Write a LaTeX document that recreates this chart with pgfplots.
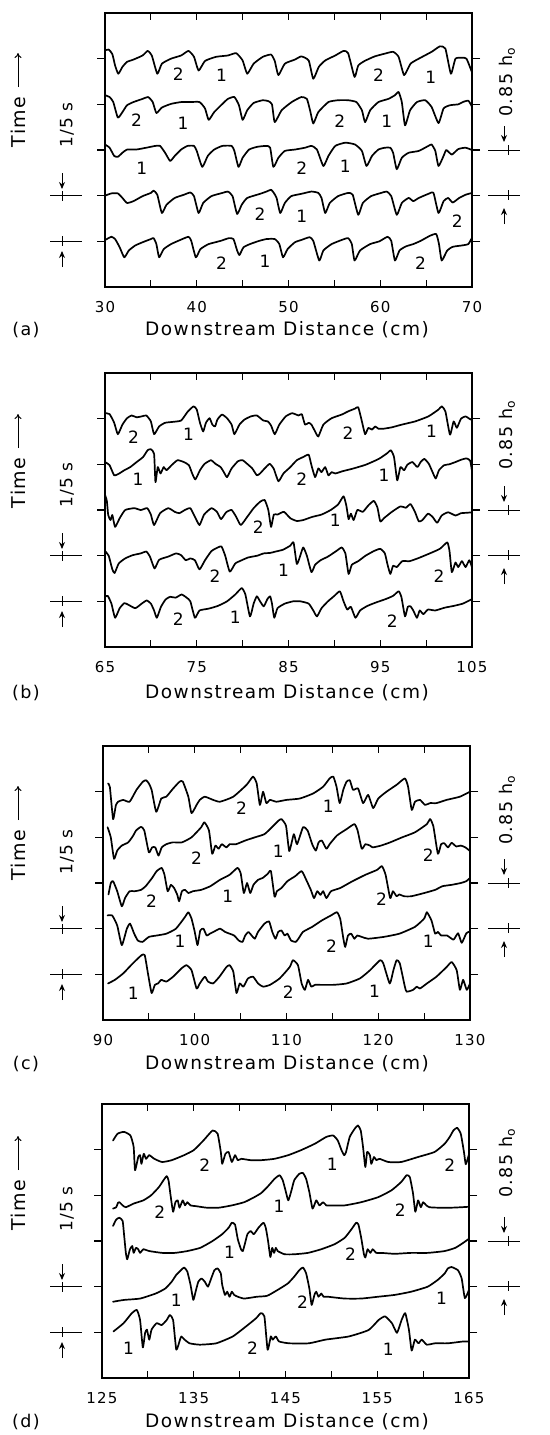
\documentclass[border=0pt]{standalone}
\usepackage{pgfplots}
\pgfplotsset{compat=1.18}
\usetikzlibrary{arrows.meta}
\usepackage{fontspec}
\setmainfont{DejaVu Sans}
\newfontfamily\plotfont[LetterSpace=8]{DejaVu Sans}
\newcommand\tickfont{\plotfont\fontsize{15}{18}\selectfont}
\newcommand\xlabfont{\plotfont\fontsize{18.5}{22}\selectfont}
\newcommand\numfont{\plotfont\fontsize{17}{20}\selectfont}
\newcommand\annfont{\plotfont\fontsize{17.5}{21}\selectfont}
\newcommand\timefont{\plotfont\fontsize{19}{22}\selectfont}
\newcommand\fiffont{\plotfont\fontsize{17}{20}\selectfont}

\tikzset{dimarr/.style={line width=1pt,-{Stealth[length=7pt,width=6pt]}},
         dimln/.style={line width=0.9pt}}

\pgfplotsset{
  panel/.style={scale only axis, width=367pt, height=274pt, anchor=north west,
    ymin=-1, ymax=5, clip=true,
    axis line style={line width=1.5pt},
    tick style={black, line width=1.2pt},
    tick align=inside, major tick length=7pt, minor tick length=7pt,
    ytick=\empty,
    xticklabel={\pgfmathprintnumber[assume math mode=true]{\tick}},
    xticklabel style={font=\tickfont, anchor=base, yshift=-25pt}},
  ytk/.style={scale only axis, width=367pt, height=274pt, anchor=north west,
    ymin=-1, ymax=5, xmin=0, xmax=1, xtick=\empty, ytick={0,1,2,3,4}, yticklabels={,,,,},
    tick align=outside, major tick length=8pt,
    tick style={black, line width=1.2pt},
    axis line style={line width=1.5pt}},
  trace/.style={black, line width=1.7pt, line join=round, line cap=round, mark=none, solid, smooth, tension=0.3},
}

\newcommand{\panelnotes}[6]{%
 \begin{scope}[yshift=-#1pt]
  \node[rotate=90, font=\timefont] at (18pt,-#2pt) {Time};
  \draw[line width=1pt,-{To[length=5pt,width=7pt]}] (18pt,{-(#2-35)*1pt}) -- (18pt,{-(#2-69)*1pt});
  \node[rotate=90, font=\fiffont] at (67pt,-#3pt) {1/5 s};
  \draw[dimln] (50pt,-182.7pt) -- (82pt,-182.7pt);
  \draw[dimln] (50pt,-228.3pt) -- (82pt,-228.3pt);
  \draw[dimln] (62pt,-178pt) -- (62pt,-188pt);
  \draw[dimln] (62pt,-223pt) -- (62pt,-233pt);
  \draw[dimarr] (62pt,-160pt) -- (62pt,-176pt);
  \draw[dimarr] (62pt,-254pt) -- (62pt,-238pt);
  \node[rotate=90, font=\annfont] at (507pt,-#4pt) {0.85 h\textsubscript{o}};
  \draw[dimln] (488pt,-137pt) -- (520pt,-137pt);
  \draw[dimln] (488pt,-182.7pt) -- (520pt,-182.7pt);
  \draw[dimln] (508pt,-132pt) -- (508pt,-142pt);
  \draw[dimln] (508pt,-177pt) -- (508pt,-187pt);
  \draw[dimarr] (504pt,-113pt) -- (504pt,-129pt);
  \draw[dimarr] (504pt,-211pt) -- (504pt,-195pt);
 \end{scope}
 \node[font=\xlabfont] at (287pt,-#6pt) {Downstream Distance (cm)};
 \node[font=\annfont] at (26pt,-#6pt) {(#5)};
}

\begin{document}
\begin{tikzpicture}
\useasboundingbox (0,0) rectangle (549pt,-1435pt);

% ================= (a) =================
\begin{axis}[ytk, at={(105pt,-13pt)}]\end{axis}
\begin{axis}[panel, at={(105pt,-13pt)}, xmin=30, xmax=70,
  xtick={30,40,...,70}, minor xtick={35,45,...,65}]
\addplot[trace] table[row sep=\\, y expr=\thisrowno{1}+4]{x y\\
30.0 0.18\\ 30.4 0.20\\ 30.8 0.10\\ 31.1 -0.15\\ 31.45 -0.33\\ 31.9 -0.18\\ 32.4 -0.07\\ 33.1 -0.02\\ 34.1 0.07\\ 34.65 0.17\\
35.1 0.07\\ 35.7 -0.33\\ 36.2 -0.11\\ 37.2 0.00\\ 38.3 0.07\\ 39.1 0.17\\ 39.7 0.04\\ 40.2 -0.26\\ 40.9 -0.05\\ 42.1 0.04\\
43.4 0.07\\ 44.3 0.12\\ 45.0 -0.04\\ 45.5 -0.33\\ 46.2 -0.11\\ 47.2 0.04\\ 48.1 0.09\\ 48.5 -0.05\\ 48.9 -0.36\\ 49.6 -0.11\\
50.7 -0.02\\ 51.4 0.05\\ 52.2 -0.04\\ 52.7 -0.44\\ 53.3 -0.18\\ 54.0 -0.04\\ 55.1 0.07\\ 56.0 0.17\\ 56.5 0.12\\ 57.2 -0.40\\
57.6 -0.15\\ 58.3 -0.05\\ 59.4 0.05\\ 60.5 0.11\\ 61.4 0.15\\ 62.0 0.04\\ 62.6 -0.36\\ 63.3 -0.11\\ 64.2 0.00\\ 65.6 0.15\\
66.5 0.27\\ 67.1 0.22\\ 67.7 -0.33\\ 68.2 0.00\\ 68.9 0.02\\ 69.4 0.00\\ 70.0 -0.30\\};
\addplot[trace] table[row sep=\\, y expr=\thisrowno{1}+3]{x y\\
30.0 0.20\\ 30.5 0.16\\ 30.9 0.05\\ 31.4 -0.29\\ 31.9 -0.17\\ 32.4 -0.02\\ 33.1 0.05\\ 34.1 0.12\\ 34.7 0.16\\ 35.2 0.05\\
35.6 -0.19\\ 36.2 -0.07\\ 37.2 0.01\\ 38.3 0.05\\ 39.3 0.05\\ 40.3 0.05\\ 40.9 -0.09\\ 41.3 -0.34\\ 41.9 -0.17\\ 42.8 0.01\\
43.4 0.12\\ 44.1 0.16\\ 44.6 -0.02\\ 45.0 -0.34\\ 45.5 -0.13\\ 46.2 0.03\\ 47.2 0.09\\ 47.8 0.07\\ 48.2 0.00\\ 48.5 -0.39\\
49.25 -0.13\\ 50.35 0.05\\ 51.4 0.16\\ 52.0 0.12\\ 52.35 -0.13\\ 52.7 -0.42\\ 53.25 -0.17\\ 54.35 0.05\\ 55.4 0.09\\ 56.5 0.09\\
57.4 0.05\\ 58.0 -0.13\\ 58.35 -0.39\\ 58.9 -0.13\\ 59.8 0.05\\ 60.9 0.12\\ 61.6 0.20\\ 62.0 0.27\\ 62.35 0.05\\ 62.7 -0.46\\
63.25 -0.13\\ 64.0 0.05\\ 64.9 0.09\\ 65.6 -0.06\\ 66.35 -0.41\\ 66.9 -0.09\\ 67.6 -0.02\\ 68.5 0.00\\ 69.0 0.05\\ 69.6 0.08\\ 70.0 -0.05\\};
\addplot[trace] table[row sep=\\, y expr=\thisrowno{1}+2]{x y\\
30.0 0.12\\ 30.5 0.05\\ 31.0 -0.13\\ 31.4 -0.15\\ 31.9 -0.06\\ 32.4 0.01\\ 33.4 0.01\\ 34.5 0.05\\ 35.5 0.09\\ 36.0 0.09\\
36.55 -0.06\\ 37.1 -0.24\\ 37.6 -0.13\\ 38.3 0.01\\ 39.0 0.09\\ 39.7 0.09\\ 40.0 -0.02\\ 40.6 -0.37\\ 41.2 -0.13\\ 41.9 0.01\\
42.8 0.09\\ 43.8 0.09\\ 44.1 -0.02\\ 44.55 -0.37\\ 45.0 -0.17\\ 45.7 0.01\\ 46.6 0.07\\ 47.6 0.09\\ 48.0 0.05\\ 48.35 -0.37\\
48.9 -0.17\\ 49.6 -0.02\\ 50.7 0.01\\ 51.8 0.05\\ 52.5 0.09\\ 53.1 0.01\\ 53.8 -0.35\\ 54.35 -0.13\\ 55.1 0.09\\ 56.2 0.16\\
57.25 0.12\\ 58.0 -0.02\\ 58.5 -0.35\\ 59.1 -0.13\\ 59.8 0.01\\ 60.5 0.05\\ 61.1 0.05\\ 61.4 -0.06\\ 61.8 -0.42\\ 62.35 -0.17\\
63.1 -0.06\\ 64.2 -0.02\\ 65.25 0.09\\ 65.6 0.12\\ 66.0 -0.02\\ 66.35 -0.35\\ 66.9 -0.13\\ 67.2 0.00\\ 67.8 -0.10\\ 68.5 0.02\\
69.3 0.05\\ 70.0 0.00\\};
\addplot[trace] table[row sep=\\, y expr=\thisrowno{1}+1]{x y\\
30.0 0.00\\ 30.7 0.05\\ 31.4 0.05\\ 31.9 -0.05\\ 32.4 -0.16\\ 33.1 -0.12\\ 34.1 -0.01\\ 35.0 0.06\\ 35.3 0.11\\ 35.7 0.02\\
36.2 -0.38\\ 36.7 -0.20\\ 37.6 -0.05\\ 38.6 0.02\\ 39.3 0.07\\ 39.7 -0.01\\ 40.2 -0.38\\ 40.7 -0.16\\ 41.6 -0.01\\ 42.8 0.06\\
43.4 0.09\\ 43.9 -0.01\\ 44.4 -0.40\\ 44.9 -0.20\\ 45.5 -0.05\\ 46.9 0.04\\ 47.6 0.09\\ 48.1 0.13\\ 48.4 0.06\\ 48.7 -0.05\\
49.1 -0.38\\ 49.6 -0.16\\ 50.3 -0.01\\ 51.4 0.04\\ 52.5 0.09\\ 53.25 0.06\\ 53.6 -0.05\\ 54.0 -0.38\\ 54.5 -0.16\\ 55.4 -0.01\\
56.5 0.06\\ 57.0 0.02\\ 57.6 -0.42\\ 58.1 -0.16\\ 59.0 -0.01\\ 60.1 0.06\\ 60.7 0.09\\ 61.2 -0.01\\ 61.8 -0.42\\ 62.35 -0.16\\
63.1 -0.05\\ 63.6 -0.12\\ 64.2 -0.05\\ 65.25 0.04\\ 65.8 0.06\\ 66.35 -0.38\\ 66.9 -0.12\\ 67.4 -0.05\\ 67.9 -0.15\\ 68.6 -0.05\\
69.3 0.02\\ 70.0 0.06\\};
\addplot[trace] table[row sep=\\, y expr=\thisrowno{1}+0]{x y\\
30.0 0.03\\ 30.2 0.05\\ 30.7 0.10\\ 31.1 0.05\\ 31.6 -0.13\\ 32.1 -0.35\\ 32.6 -0.20\\ 33.3 -0.09\\ 34.1 -0.02\\ 35.0 0.05\\
35.3 0.07\\ 35.6 -0.06\\ 35.9 -0.35\\ 36.4 -0.17\\ 37.2 -0.06\\ 38.2 0.03\\ 39.1 0.10\\ 39.4 0.01\\ 39.9 -0.35\\ 40.4 -0.17\\
41.3 -0.06\\ 42.6 0.01\\ 43.5 0.07\\ 44.0 0.05\\ 44.4 -0.20\\ 44.65 -0.30\\ 45.1 -0.13\\ 45.8 -0.06\\ 46.8 0.01\\ 47.6 0.05\\
48.5 0.05\\ 49.0 -0.06\\ 49.4 -0.35\\ 49.9 -0.17\\ 50.7 -0.02\\ 51.4 0.03\\ 52.3 0.09\\ 52.7 0.01\\ 53.35 -0.42\\ 53.8 -0.20\\
54.7 -0.06\\ 55.8 0.03\\ 56.5 0.07\\ 56.9 -0.06\\ 57.2 -0.42\\ 57.8 -0.20\\ 58.9 -0.06\\ 59.9 0.00\\ 60.8 0.10\\ 61.2 0.01\\
61.6 -0.42\\ 62.1 -0.20\\ 62.8 -0.11\\ 63.6 -0.06\\ 64.4 0.01\\ 65.4 0.12\\ 66.1 0.16\\ 66.4 -0.06\\ 66.7 -0.42\\ 67.3 -0.20\\
67.9 -0.12\\ 68.9 -0.09\\ 69.6 -0.06\\ 70.0 0.08\\};
\node[font=\numfont] at (38.0,3.67) {2};
\node[font=\numfont] at (42.7,3.64) {1};
\node[font=\numfont] at (59.8,3.64) {2};
\node[font=\numfont] at (65.5,3.60) {1};
\node[font=\numfont] at (33.45,2.65) {2};
\node[font=\numfont] at (38.5,2.58) {1};
\node[font=\numfont] at (55.6,2.62) {2};
\node[font=\numfont] at (60.7,2.62) {1};
\node[font=\numfont] at (34.0,1.60) {1};
\node[font=\numfont] at (51.45,1.60) {2};
\node[font=\numfont] at (56.2,1.64) {1};
\node[font=\numfont] at (46.9,0.59) {2};
\node[font=\numfont] at (51.45,0.55) {1};
\node[font=\numfont] at (68.4,0.44) {2};
\node[font=\numfont] at (42.7,-0.47) {2};
\node[font=\numfont] at (47.45,-0.44) {1};
\node[font=\numfont] at (64.4,-0.47) {2};
\end{axis}
\panelnotes{13}{109}{112}{69}{a}{330}

% ================= (b) =================
\begin{axis}[ytk, at={(105pt,-373pt)}]\end{axis}
\begin{axis}[panel, at={(105pt,-373pt)}, xmin=65, xmax=105,
  xtick={65,75,...,105}, minor xtick={70,80,...,100}]
\addplot[trace] table[row sep=\\, y expr=\thisrowno{1}+4]{x y\\
65.0 0.12\\ 65.5 0.10\\ 66.0 -0.09\\ 66.4 -0.34\\ 66.9 -0.13\\ 67.4 0.01\\ 67.9 0.07\\ 68.45 0.03\\ 69.0 0.05\\ 69.5 0.07\\
70.0 -0.06\\ 70.35 -0.34\\ 70.9 -0.17\\ 71.55 -0.09\\ 72.4 -0.07\\ 73.3 -0.04\\ 74.0 0.15\\ 74.65 0.27\\ 75.0 0.20\\ 75.35 -0.09\\
75.7 -0.28\\ 76.0 -0.09\\ 76.4 0.01\\ 76.7 -0.13\\ 77.0 -0.17\\ 77.25 -0.02\\ 77.75 0.09\\ 78.3 0.01\\ 78.8 -0.13\\ 79.1 -0.34\\
79.65 -0.13\\ 80.2 -0.02\\ 80.9 0.05\\ 81.55 0.07\\ 82.25 -0.04\\ 82.75 -0.06\\ 83.1 -0.15\\ 83.5 -0.34\\ 84.0 -0.13\\ 84.7 0.05\\
85.4 0.12\\ 86.1 0.07\\ 86.45 0.10\\ 86.8 -0.13\\ 87.2 -0.09\\ 87.5 -0.13\\ 87.9 -0.28\\ 88.25 -0.39\\ 88.8 -0.13\\ 89.7 0.01\\
90.8 0.09\\ 91.5 0.16\\ 92.25 0.22\\ 92.6 0.25\\ 93.0 -0.06\\ 93.35 -0.34\\ 93.7 -0.20\\ 94.1 -0.24\\ 94.45 -0.17\\ 94.8 -0.22\\
95.35 -0.22\\ 96.25 -0.19\\ 97.35 -0.13\\ 98.8 -0.06\\ 100.25 0.05\\ 101.35 0.20\\ 101.7 0.27\\ 102.1 0.16\\ 102.6 -0.35\\ 103.0 -0.06\\
103.35 -0.20\\ 103.8 0.00\\ 104.3 0.05\\ 104.7 0.00\\ 105.0 -0.03\\};
\addplot[trace] table[row sep=\\, y expr=\thisrowno{1}+3]{x y\\
65.0 0.05\\ 65.5 -0.02\\ 66.0 -0.24\\ 66.55 -0.20\\ 67.1 -0.13\\ 67.75 -0.06\\ 68.45 0.05\\ 69.15 0.16\\ 69.65 0.31\\ 70.0 0.33\\
70.35 0.23\\ 70.5 -0.39\\ 70.75 -0.06\\ 71.05 -0.20\\ 71.4 -0.06\\ 71.7 -0.13\\ 72.25 -0.02\\ 72.9 0.09\\ 73.6 0.05\\ 74.15 -0.02\\
74.5 -0.20\\ 74.85 -0.33\\ 75.35 -0.13\\ 75.85 0.01\\ 76.55 0.09\\ 77.05 0.01\\ 77.6 -0.06\\ 77.95 -0.17\\ 78.3 -0.28\\ 78.8 -0.09\\
79.5 0.07\\ 80.0 0.09\\ 80.5 0.01\\ 81.05 -0.09\\ 81.55 -0.24\\ 81.9 -0.20\\ 82.4 -0.09\\ 82.95 0.01\\ 83.4 -0.10\\ 83.9 -0.37\\
84.45 -0.20\\ 85.2 -0.06\\ 85.9 0.09\\ 86.6 0.16\\ 87.2 0.21\\ 87.5 -0.02\\ 87.9 -0.28\\ 88.25 -0.09\\ 88.6 -0.17\\ 89.0 -0.06\\
89.35 -0.24\\ 89.7 -0.17\\ 90.1 -0.20\\ 90.9 -0.15\\ 91.9 -0.10\\ 93.4 -0.01\\ 94.85 0.12\\ 95.8 0.25\\ 96.15 0.31\\ 96.5 0.16\\
96.85 -0.35\\ 97.2 -0.06\\ 97.6 -0.13\\ 97.95 -0.01\\ 98.5 0.05\\ 99.05 -0.06\\ 99.4 0.05\\ 99.8 0.12\\ 100.3 0.01\\ 100.7 -0.17\\
101.05 -0.31\\ 101.4 -0.13\\ 101.95 -0.02\\ 102.5 0.00\\ 103.2 0.05\\ 103.8 0.10\\ 104.4 0.13\\ 104.8 0.08\\ 105.0 -0.15\\};
\addplot[trace] table[row sep=\\, y expr=\thisrowno{1}+2]{x y\\
65.0 0.33\\ 65.2 0.20\\ 65.35 -0.11\\ 65.6 -0.22\\ 65.8 -0.11\\ 66.1 -0.37\\ 66.6 -0.18\\ 67.2 0.00\\ 68.2 0.04\\ 68.9 0.00\\
69.6 0.04\\ 70.0 -0.10\\ 70.35 -0.33\\ 71.0 -0.07\\ 71.9 0.04\\ 72.6 -0.04\\ 73.1 -0.07\\ 73.7 0.00\\ 74.3 0.04\\ 74.8 -0.15\\
75.3 -0.33\\ 75.8 -0.10\\ 76.6 0.04\\ 77.2 -0.04\\ 77.65 -0.20\\ 78.2 -0.05\\ 78.8 0.00\\ 79.3 -0.15\\ 79.8 -0.33\\ 80.5 -0.15\\
81.2 0.04\\ 81.9 0.18\\ 82.4 0.22\\ 82.8 0.00\\ 83.1 -0.37\\ 83.4 -0.10\\ 83.8 -0.10\\ 84.5 -0.04\\ 85.2 -0.18\\ 85.9 -0.24\\
86.6 -0.22\\ 87.6 -0.15\\ 88.6 -0.10\\ 89.6 0.00\\ 90.4 0.12\\ 91.0 0.30\\ 91.3 0.10\\ 91.55 -0.20\\ 91.8 -0.08\\ 92.1 -0.22\\
92.5 0.00\\ 93.1 -0.04\\ 93.7 0.10\\ 94.3 0.20\\ 94.7 0.05\\ 95.0 -0.25\\ 95.4 -0.18\\ 96.2 -0.05\\ 97.2 0.08\\ 97.8 0.05\\
98.3 0.13\\ 98.8 -0.05\\ 99.2 -0.25\\ 99.6 -0.22\\ 100.2 -0.08\\ 100.7 -0.15\\ 101.2 -0.28\\ 101.7 -0.12\\ 102.4 -0.05\\ 103.2 -0.12\\
103.8 -0.07\\ 104.5 -0.06\\ 105.0 -0.05\\};
\addplot[trace] table[row sep=\\, y expr=\thisrowno{1}+1]{x y\\
65.0 0.10\\ 65.4 0.00\\ 65.8 -0.30\\ 66.05 -0.38\\ 66.5 -0.17\\ 67.2 -0.06\\ 68.0 0.01\\ 68.9 0.05\\ 69.5 0.09\\ 69.9 -0.02\\
70.4 -0.28\\ 70.9 -0.09\\ 71.9 -0.02\\ 72.75 0.05\\ 73.3 0.01\\ 73.8 -0.10\\ 74.3 -0.06\\ 74.8 -0.10\\ 75.3 -0.30\\ 75.9 -0.10\\
76.6 0.10\\ 77.3 0.18\\ 77.7 0.20\\ 78.1 0.00\\ 78.6 -0.35\\ 79.2 -0.17\\ 79.9 -0.10\\ 80.6 -0.04\\ 81.6 0.00\\ 82.3 0.05\\
83.0 0.06\\ 83.6 0.09\\ 84.4 0.13\\ 85.2 0.22\\ 85.55 0.29\\ 85.9 -0.18\\ 86.2 -0.05\\ 86.6 0.18\\ 87.0 0.00\\ 87.5 -0.36\\
87.9 -0.20\\ 88.5 -0.10\\ 89.3 -0.02\\ 90.2 0.10\\ 90.8 0.18\\ 91.2 0.05\\ 91.55 -0.40\\ 91.9 -0.20\\ 92.6 -0.12\\ 93.4 0.00\\
94.3 0.10\\ 95.0 0.15\\ 95.5 0.05\\ 95.8 -0.20\\ 96.1 -0.40\\ 96.4 -0.22\\ 96.8 -0.25\\ 97.4 -0.12\\ 98.2 -0.12\\ 99.2 -0.05\\
100.4 0.05\\ 101.5 0.15\\ 102.3 0.29\\ 102.55 0.10\\ 102.8 -0.36\\ 103.2 -0.15\\ 103.5 -0.25\\ 103.9 -0.12\\ 104.3 -0.25\\ 104.7 -0.10\\
105.0 -0.25\\};
\addplot[trace] table[row sep=\\, y expr=\thisrowno{1}+0]{x y\\
65.0 0.10\\ 65.3 0.12\\ 65.7 -0.05\\ 66.1 -0.36\\ 66.6 -0.15\\ 67.1 -0.04\\ 67.5 -0.07\\ 68.3 -0.15\\ 69.0 -0.05\\ 69.55 0.02\\
70.0 -0.05\\ 70.35 -0.20\\ 70.65 -0.36\\ 71.1 -0.12\\ 71.6 0.04\\ 72.1 0.10\\ 72.7 0.08\\ 73.35 0.15\\ 73.9 0.08\\ 74.3 0.00\\
74.8 -0.36\\ 75.3 -0.20\\ 76.3 -0.16\\ 77.3 -0.10\\ 78.3 0.00\\ 79.2 0.15\\ 79.9 0.29\\ 80.3 0.15\\ 80.8 -0.33\\ 81.2 -0.05\\
81.55 0.11\\ 81.9 0.00\\ 82.3 -0.11\\ 82.7 0.05\\ 83.0 0.11\\ 83.2 -0.05\\ 83.45 -0.36\\ 83.8 -0.15\\ 84.6 -0.05\\ 85.5 0.00\\
86.3 0.00\\ 87.2 -0.05\\ 87.7 -0.20\\ 88.1 -0.33\\ 88.6 -0.15\\ 89.3 0.00\\ 90.0 0.12\\ 90.6 0.22\\ 91.0 0.00\\ 91.4 -0.18\\
91.8 -0.12\\ 92.3 -0.36\\ 92.8 -0.20\\ 93.6 -0.10\\ 94.6 -0.02\\ 95.6 0.05\\ 96.4 0.12\\ 97.0 0.22\\ 97.3 0.10\\ 97.7 -0.33\\
98.0 -0.12\\ 98.3 -0.11\\ 98.6 -0.20\\ 99.0 -0.36\\ 99.3 -0.20\\ 99.7 -0.28\\ 100.2 -0.18\\ 101.0 -0.20\\ 102.0 -0.14\\ 103.0 -0.10\\
104.0 -0.05\\ 105.0 0.05\\};
\node[font=\numfont] at (68.1,3.59) {2};
\node[font=\numfont] at (74.1,3.65) {1};
\node[font=\numfont] at (91.5,3.69) {2};
\node[font=\numfont] at (100.6,3.72) {1};
\node[font=\numfont] at (68.6,2.67) {1};
\node[font=\numfont] at (86.45,2.67) {2};
\node[font=\numfont] at (95.4,2.75) {1};
\node[font=\numfont] at (81.7,1.62) {2};
\node[font=\numfont] at (90.1,1.77) {1};
\node[font=\numfont] at (77.0,0.56) {2};
\node[font=\numfont] at (84.45,0.67) {1};
\node[font=\numfont] at (101.4,0.56) {2};
\node[font=\numfont] at (73.0,-0.40) {2};
\node[font=\numfont] at (79.2,-0.36) {1};
\node[font=\numfont] at (96.3,-0.44) {2};
\end{axis}
\panelnotes{373}{110}{112}{62}{b}{693}

% ================= (c) =================
\begin{axis}[ytk, at={(103pt,-746pt)}]\end{axis}
\begin{axis}[panel, at={(103pt,-746pt)}, xmin=90, xmax=130,
  xtick={90,100,...,130}, minor xtick={95,105,...,125}]
\addplot[trace] table[row sep=\\, y expr=\thisrowno{1}+4]{x y\\
90.55 0.18\\ 90.75 0.10\\ 91.1 -0.60\\ 91.4 -0.30\\ 91.65 -0.22\\ 92.2 -0.18\\ 92.9 -0.22\\ 93.65 0.04\\ 94.35 0.22\\ 94.7 0.25\\
95.0 0.18\\ 95.3 0.04\\ 95.8 -0.44\\ 96.35 -0.15\\ 96.9 -0.11\\ 97.65 0.07\\ 98.35 0.22\\ 98.7 0.22\\ 99.3 -0.11\\ 99.65 -0.47\\
100.2 -0.29\\ 100.55 -0.18\\ 101.1 -0.11\\ 102.0 -0.18\\ 102.75 -0.22\\ 104.2 -0.11\\ 105.65 0.15\\ 106.35 0.33\\ 106.75 0.18\\ 107.1 -0.29\\
107.45 0.00\\ 107.8 -0.25\\ 108.2 -0.18\\ 108.9 -0.22\\ 110.0 -0.18\\ 111.45 -0.15\\ 112.9 -0.04\\ 114.0 0.11\\ 114.7 0.29\\ 115.1 0.33\\
115.45 0.11\\ 115.8 -0.25\\ 116.2 0.05\\ 116.55 0.22\\ 116.9 0.25\\ 117.25 0.04\\ 117.8 0.07\\ 118.35 -0.25\\ 118.9 -0.07\\ 119.45 -0.36\\
120.0 -0.15\\ 120.9 0.00\\ 122.0 0.15\\ 122.9 0.29\\ 123.25 0.11\\ 123.65 -0.40\\ 124.0 -0.22\\ 124.55 -0.18\\ 125.1 -0.29\\ 125.65 -0.25\\
126.35 -0.25\\ 127.45 -0.18\\ 128.9 -0.11\\ 130.0 0.00\\};
\addplot[trace] table[row sep=\\, y expr=\thisrowno{1}+3]{x y\\
90.5 0.22\\ 90.85 0.00\\ 91.2 -0.47\\ 91.55 -0.29\\ 92.05 -0.18\\ 92.75 -0.11\\ 93.3 0.04\\ 93.6 0.15\\ 94.15 0.23\\ 94.5 0.15\\
95.0 -0.33\\ 95.35 -0.22\\ 95.7 -0.22\\ 96.05 -0.40\\ 96.4 -0.22\\ 96.9 -0.15\\ 97.6 -0.11\\ 98.6 -0.11\\ 99.65 0.00\\ 100.7 0.22\\
101.05 0.33\\ 101.55 0.15\\ 101.9 -0.36\\ 102.25 -0.18\\ 102.6 -0.25\\ 102.95 -0.15\\ 103.45 -0.22\\ 103.8 -0.15\\ 104.5 -0.15\\ 105.5 -0.07\\
106.55 0.00\\ 107.6 0.07\\ 108.4 0.22\\ 109.1 0.36\\ 109.45 0.40\\ 109.95 0.25\\ 110.3 -0.30\\ 110.8 0.07\\ 111.15 -0.15\\ 111.8 0.22\\
112.3 0.15\\ 112.8 -0.15\\ 113.2 -0.29\\ 113.5 -0.11\\ 113.85 -0.07\\ 114.35 -0.25\\ 114.7 -0.15\\ 115.5 0.04\\ 116.55 0.18\\ 117.4 0.29\\
117.75 0.15\\ 118.2 -0.25\\ 118.6 -0.15\\ 119.1 -0.18\\ 119.4 -0.22\\ 120.3 -0.18\\ 121.3 -0.11\\ 122.6 0.00\\ 124.0 0.11\\ 125.3 0.29\\
125.65 0.40\\ 126.0 0.25\\ 126.5 -0.36\\ 126.85 -0.15\\ 127.2 -0.13\\ 127.6 -0.22\\ 128.0 -0.12\\ 128.5 -0.20\\ 129.0 -0.18\\ 129.5 -0.22\\
130.0 -0.30\\};
\addplot[trace] table[row sep=\\, y expr=\thisrowno{1}+2]{x y\\
90.6 -0.25\\ 90.85 0.00\\ 91.1 0.04\\ 91.55 -0.18\\ 92.05 -0.51\\ 92.4 -0.33\\ 92.9 -0.18\\ 93.45 -0.18\\ 94.15 -0.15\\ 94.65 -0.07\\
95.35 0.11\\ 95.85 0.26\\ 96.4 0.33\\ 96.7 0.18\\ 97.05 -0.18\\ 97.4 -0.04\\ 97.75 -0.11\\ 98.1 -0.26\\ 98.3 -0.40\\ 98.6 -0.18\\
98.95 -0.15\\ 99.3 -0.22\\ 99.8 -0.18\\ 100.7 -0.15\\ 101.7 -0.07\\ 102.75 0.07\\ 103.8 0.18\\ 104.65 0.33\\ 105.0 0.22\\ 105.35 -0.22\\
105.7 0.00\\ 106.05 -0.22\\ 106.4 -0.04\\ 106.9 0.07\\ 107.4 0.11\\ 107.95 0.20\\ 108.3 0.26\\ 108.7 -0.30\\ 108.95 -0.18\\ 109.45 -0.11\\
110.1 0.04\\ 110.95 0.15\\ 111.65 0.26\\ 112.15 0.07\\ 112.65 -0.15\\ 113.0 -0.33\\ 113.35 -0.18\\ 113.7 -0.26\\ 114.0 -0.18\\ 114.35 -0.33\\
114.85 -0.18\\ 115.85 -0.11\\ 117.2 0.04\\ 118.6 0.18\\ 119.9 0.29\\ 120.4 0.37\\ 120.8 0.18\\ 121.3 -0.33\\ 121.6 -0.18\\ 122.0 -0.29\\
122.3 -0.25\\ 122.8 -0.29\\ 123.6 -0.29\\ 125.0 -0.22\\ 126.2 -0.15\\ 127.0 -0.07\\ 128.0 -0.04\\ 129.0 0.00\\ 129.6 0.04\\ 130.0 0.11\\};
\addplot[trace] table[row sep=\\, y expr=\thisrowno{1}+1]{x y\\
90.5 0.29\\ 91.0 0.29\\ 91.55 0.07\\ 92.05 -0.36\\ 92.6 0.00\\ 92.95 0.11\\ 93.4 -0.11\\ 93.8 -0.26\\ 94.3 -0.29\\ 95.0 -0.18\\
95.85 -0.15\\ 96.9 -0.11\\ 97.95 0.00\\ 98.95 0.26\\ 99.3 0.36\\ 99.65 0.22\\ 100.0 -0.07\\ 100.3 -0.36\\ 100.6 -0.04\\ 100.95 0.00\\
101.3 -0.15\\ 101.65 -0.11\\ 102.05 -0.07\\ 102.75 0.00\\ 103.3 -0.07\\ 103.8 -0.11\\ 104.3 -0.15\\ 104.8 -0.26\\ 105.2 -0.29\\ 105.5 -0.15\\
105.85 -0.07\\ 106.2 -0.15\\ 106.55 -0.22\\ 106.9 -0.07\\ 107.6 0.11\\ 108.1 0.16\\ 108.45 -0.07\\ 108.8 -0.22\\ 109.1 -0.07\\ 109.45 -0.04\\
109.8 -0.15\\ 110.1 -0.11\\ 110.5 -0.26\\ 111.0 -0.29\\ 111.3 -0.22\\ 111.8 -0.07\\ 112.8 0.04\\ 113.85 0.18\\ 114.85 0.29\\ 115.5 0.36\\
115.85 0.22\\ 116.2 -0.22\\ 116.4 -0.40\\ 116.7 -0.15\\ 117.05 -0.11\\ 117.4 -0.22\\ 117.7 -0.15\\ 118.2 -0.18\\ 118.9 -0.22\\ 120.6 -0.18\\
122.3 -0.11\\ 124.0 0.04\\ 125.0 0.22\\ 125.3 0.36\\ 125.8 0.18\\ 126.2 -0.11\\ 126.5 -0.07\\ 126.85 -0.15\\ 127.5 -0.15\\ 128.2 -0.24\\
128.7 -0.10\\ 129.1 -0.31\\ 129.6 -0.10\\ 130.0 -0.06\\};
\addplot[trace] table[row sep=\\, y expr=\thisrowno{1}+0]{x y\\
90.55 -0.20\\ 91.3 -0.12\\ 92.2 0.02\\ 93.25 0.24\\ 94.2 0.42\\ 94.55 0.42\\ 94.9 0.02\\ 95.3 -0.41\\ 95.65 -0.23\\ 96.0 -0.20\\
96.35 -0.12\\ 96.9 -0.16\\ 97.65 -0.05\\ 98.55 0.13\\ 99.1 0.20\\ 99.65 0.09\\ 100.2 -0.31\\ 100.55 -0.20\\ 101.1 -0.05\\ 101.45 -0.16\\
102.0 -0.20\\ 102.7 -0.05\\ 103.45 0.16\\ 103.8 0.20\\ 104.2 0.06\\ 104.55 -0.41\\ 104.9 -0.20\\ 105.3 -0.27\\ 105.8 -0.09\\ 106.35 -0.05\\
106.9 -0.20\\ 107.45 -0.27\\ 108.2 -0.23\\ 109.25 -0.09\\ 110.35 0.16\\ 110.7 0.31\\ 111.25 0.20\\ 111.65 -0.20\\ 112.0 -0.34\\ 112.35 -0.12\\
112.7 -0.27\\ 113.1 -0.23\\ 113.65 -0.23\\ 115.1 -0.23\\ 116.55 -0.20\\ 118.0 -0.09\\ 119.1 0.09\\ 120.2 0.31\\ 120.55 0.24\\ 121.25 -0.20\\
121.65 0.09\\ 122.0 0.31\\ 122.35 0.24\\ 122.9 -0.27\\ 123.1 -0.38\\ 123.8 -0.34\\ 124.2 -0.27\\ 124.55 -0.31\\ 125.3 -0.20\\ 126.35 -0.05\\
127.45 0.16\\ 128.0 0.27\\ 128.55 0.09\\ 128.9 -0.34\\ 129.25 -0.12\\ 129.65 -0.34\\ 130.0 -0.20\\};
\node[font=\numfont] at (105.1,3.64) {2};
\node[font=\numfont] at (114.55,3.67) {1};
\node[font=\numfont] at (100.2,2.54) {2};
\node[font=\numfont] at (109.1,2.69) {1};
\node[font=\numfont] at (125.45,2.61) {2};
\node[font=\numfont] at (95.3,1.60) {2};
\node[font=\numfont] at (103.6,1.71) {1};
\node[font=\numfont] at (120.35,1.64) {2};
\node[font=\numfont] at (98.4,0.72) {1};
\node[font=\numfont] at (114.9,0.61) {2};
\node[font=\numfont] at (125.45,0.72) {1};
\node[font=\numfont] at (93.3,-0.41) {1};
\node[font=\numfont] at (110.2,-0.38) {2};
\node[font=\numfont] at (119.6,-0.38) {1};
\end{axis}
\panelnotes{746}{109}{106}{64}{c}{1064}

% ================= (d) =================
\begin{axis}[ytk, at={(102pt,-1104pt)}]\end{axis}
\begin{axis}[panel, at={(102pt,-1104pt)}, xmin=125, xmax=165,
  xtick={125,135,...,165}, minor xtick={130,140,...,160}]
\addplot[trace] table[row sep=\\, y expr=\thisrowno{1}+4]{x y\\
126.2 0.20\\ 126.7 0.35\\ 127.4 0.39\\ 128.1 0.31\\ 128.45 0.06\\ 128.6 -0.45\\ 128.95 -0.16\\ 129.15 -0.12\\ 129.3 -0.31\\ 129.55 -0.09\\
129.8 -0.20\\ 130.15 -0.12\\ 130.7 -0.20\\ 131.55 -0.27\\ 132.6 -0.23\\ 133.95 -0.12\\ 135.0 -0.01\\ 136.05 0.20\\ 137.05 0.42\\ 137.6 0.35\\
137.95 -0.05\\ 138.1 -0.31\\ 138.45 -0.09\\ 138.8 -0.05\\ 139.15 -0.27\\ 139.5 -0.12\\ 139.8 -0.23\\ 140.2 -0.20\\ 141.2 -0.23\\ 142.35 -0.23\\
143.8 -0.20\\ 145.3 -0.12\\ 146.7 -0.01\\ 148.2 0.13\\ 149.45 0.28\\ 150.2 0.31\\ 150.7 0.20\\ 151.1 -0.01\\ 151.4 -0.12\\ 151.6 -0.05\\
152.0 0.28\\ 152.55 0.46\\ 152.9 0.53\\ 153.2 0.42\\ 153.45 0.06\\ 153.7 -0.38\\ 153.9 -0.05\\ 154.2 -0.12\\ 154.35 -0.31\\ 154.65 -0.16\\
154.9 -0.23\\ 155.25 -0.20\\ 156.2 -0.27\\ 157.6 -0.27\\ 159.45 -0.16\\ 161.25 -0.05\\ 162.35 0.13\\ 162.9 0.28\\ 163.3 0.42\\ 163.7 0.48\\
164.1 0.35\\ 164.45 -0.05\\ 164.65 -0.32\\ 165.0 -0.10\\};
\addplot[trace] table[row sep=\\, y expr=\thisrowno{1}+3]{x y\\
126.2 -0.29\\ 126.55 -0.26\\ 126.75 -0.16\\ 126.9 -0.15\\ 127.25 -0.22\\ 127.6 -0.26\\ 128.45 -0.18\\ 129.5 -0.11\\ 130.35 0.00\\ 131.2 0.18\\
131.7 0.33\\ 132.05 0.42\\ 132.25 0.33\\ 132.5 -0.04\\ 132.75 -0.36\\ 133.0 -0.15\\ 133.25 -0.11\\ 133.45 -0.27\\ 133.8 -0.11\\ 134.05 -0.22\\
134.3 -0.15\\ 134.65 -0.22\\ 135.35 -0.24\\ 136.4 -0.27\\ 137.75 -0.27\\ 139.15 -0.22\\ 140.5 -0.15\\ 141.6 -0.04\\ 142.35 0.05\\ 143.1 0.20\\
143.8 0.36\\ 144.35 0.44\\ 144.7 0.33\\ 145.05 0.07\\ 145.3 -0.11\\ 145.6 0.07\\ 145.95 0.33\\ 146.5 0.47\\ 146.9 0.49\\ 147.25 0.36\\
147.6 0.07\\ 147.95 -0.29\\ 148.35 -0.11\\ 148.7 -0.22\\ 149.1 -0.15\\ 149.45 -0.22\\ 150.0 -0.22\\ 151.45 -0.22\\ 153.25 -0.15\\ 155.1 -0.04\\
156.55 0.11\\ 157.6 0.29\\ 158.2 0.44\\ 158.55 0.40\\ 158.9 0.04\\ 159.15 -0.36\\ 159.45 -0.11\\ 159.75 -0.26\\ 160.0 -0.15\\ 160.35 -0.22\\
160.7 -0.26\\ 161.6 -0.27\\ 163.1 -0.27\\ 164.2 -0.26\\ 165.0 -0.25\\};
\addplot[trace] table[row sep=\\, y expr=\thisrowno{1}+2]{x y\\
126.2 0.33\\ 126.55 0.47\\ 126.9 0.51\\ 127.25 0.44\\ 127.4 0.15\\ 127.6 -0.26\\ 127.75 -0.40\\ 128.05 -0.18\\ 128.3 -0.11\\ 128.45 -0.26\\
128.7 -0.15\\ 128.95 -0.18\\ 129.15 -0.26\\ 129.5 -0.18\\ 130.15 -0.22\\ 131.55 -0.26\\ 132.95 -0.26\\ 134.3 -0.22\\ 135.7 -0.15\\ 137.05 0.00\\
138.1 0.15\\ 138.8 0.29\\ 139.15 0.40\\ 139.5 0.36\\ 139.8 0.04\\ 140.15 -0.18\\ 140.35 -0.22\\ 140.6 -0.04\\ 140.85 0.15\\ 141.2 0.22\\
141.55 0.15\\ 142.05 0.29\\ 142.6 0.40\\ 142.85 0.29\\ 143.1 0.00\\ 143.35 -0.35\\ 143.55 -0.15\\ 143.75 -0.26\\ 143.95 -0.15\\ 144.15 -0.22\\
144.9 -0.29\\ 146.0 -0.29\\ 147.45 -0.26\\ 148.9 -0.18\\ 150.35 -0.07\\ 151.45 0.07\\ 152.2 0.26\\ 152.7 0.40\\ 152.95 0.36\\ 153.25 0.07\\
153.55 -0.29\\ 153.7 -0.36\\ 153.95 -0.18\\ 154.25 -0.26\\ 154.5 -0.18\\ 154.9 -0.26\\ 155.45 -0.26\\ 156.9 -0.28\\ 158.7 -0.26\\ 160.5 -0.26\\
162.35 -0.22\\ 163.5 -0.15\\ 164.3 -0.05\\ 165.0 0.05\\};
\addplot[trace] table[row sep=\\, y expr=\thisrowno{1}+1]{x y\\
126.2 -0.33\\ 127.4 -0.29\\ 129.15 -0.26\\ 130.85 -0.15\\ 131.9 -0.04\\ 132.6 0.11\\ 133.1 0.26\\ 133.6 0.36\\ 133.95 0.42\\ 134.3 0.33\\
134.65 0.04\\ 134.95 -0.29\\ 135.2 -0.11\\ 135.5 0.11\\ 135.85 0.18\\ 136.2 0.11\\ 136.55 0.00\\ 136.9 0.18\\ 137.25 0.36\\ 137.6 0.40\\
137.95 0.29\\ 138.1 0.04\\ 138.4 -0.18\\ 138.65 -0.11\\ 138.9 -0.22\\ 139.15 -0.11\\ 139.4 -0.18\\ 139.8 -0.22\\ 140.5 -0.26\\ 141.9 -0.22\\
143.0 -0.20\\ 144.15 -0.07\\ 145.25 0.07\\ 145.95 0.22\\ 146.5 0.36\\ 146.9 0.42\\ 147.25 0.29\\ 147.6 -0.04\\ 147.85 -0.40\\ 148.15 -0.18\\
148.35 -0.11\\ 148.6 -0.22\\ 148.9 -0.15\\ 149.15 -0.22\\ 149.6 -0.22\\ 151.45 -0.26\\ 153.25 -0.26\\ 155.1 -0.22\\ 156.9 -0.18\\ 158.7 -0.11\\
160.5 0.00\\ 161.6 0.15\\ 162.35 0.29\\ 162.7 0.40\\ 163.1 0.43\\ 163.8 0.36\\ 164.2 0.18\\ 164.55 -0.25\\ 165.0 -0.07\\};
\addplot[trace] table[row sep=\\, y expr=\thisrowno{1}+0]{x y\\
126.25 0.02\\ 127.35 0.20\\ 128.25 0.42\\ 128.8 0.49\\ 129.15 0.27\\ 129.45 -0.33\\ 129.7 -0.01\\ 129.9 0.06\\ 130.15 -0.16\\ 130.4 0.06\\
130.95 0.20\\ 131.5 0.16\\ 132.05 0.27\\ 132.4 0.38\\ 132.75 0.27\\ 133.1 -0.38\\ 133.5 -0.16\\ 133.65 -0.09\\ 134.0 -0.16\\ 134.55 -0.24\\
135.65 -0.27\\ 137.45 -0.24\\ 139.25 -0.09\\ 140.7 0.13\\ 141.8 0.31\\ 142.3 0.42\\ 142.7 0.35\\ 143.05 -0.38\\ 143.4 -0.09\\ 143.6 -0.16\\
143.95 -0.09\\ 144.3 -0.20\\ 145.4 -0.24\\ 147.55 -0.24\\ 149.35 -0.16\\ 151.9 -0.09\\ 154.05 0.05\\ 155.15 0.27\\ 155.85 0.35\\ 156.6 0.20\\
157.15 -0.01\\ 157.65 0.27\\ 158.05 0.42\\ 158.45 0.06\\ 158.75 -0.40\\ 159.1 -0.16\\ 159.5 -0.24\\ 159.85 -0.16\\ 160.4 -0.27\\ 161.3 -0.24\\
162.7 -0.24\\ 164.35 -0.20\\ 164.9 -0.20\\};
\node[font=\numfont] at (136.2,3.65) {2};
\node[font=\numfont] at (150.1,3.69) {1};
\node[font=\numfont] at (162.9,3.65) {2};
\node[font=\numfont] at (131.3,2.64) {2};
\node[font=\numfont] at (144.3,2.75) {1};
\node[font=\numfont] at (157.5,2.67) {2};
\node[font=\numfont] at (138.9,1.75) {1};
\node[font=\numfont] at (152.1,1.71) {2};
\node[font=\numfont] at (133.1,0.71) {1};
\node[font=\numfont] at (146.85,0.67) {2};
\node[font=\numfont] at (162.0,0.75) {1};
\node[font=\numfont] at (127.9,-0.34) {1};
\node[font=\numfont] at (141.4,-0.34) {2};
\node[font=\numfont] at (156.2,-0.38) {1};
\end{axis}
\panelnotes{1104}{101}{105}{59}{d}{1422}

\end{tikzpicture}
\end{document}
